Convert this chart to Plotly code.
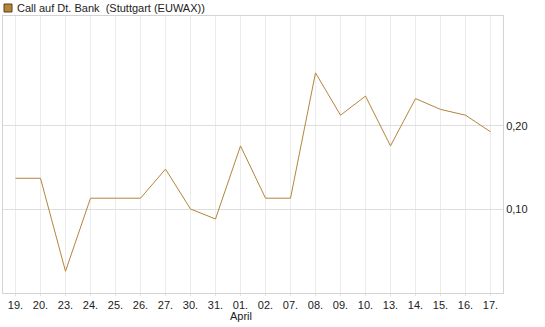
import plotly.graph_objects as go

categories = ["19.", "20.", "23.", "24.", "25.", "26.", "27.", "30.", "31.", "01.",
              "02.", "07.", "08.", "09.", "10.", "13.", "14.", "15.", "16.", "17."]
values = [0.137, 0.137, 0.025, 0.113, 0.113, 0.113, 0.148, 0.100, 0.088, 0.176,
          0.113, 0.113, 0.264, 0.213, 0.236, 0.176, 0.233, 0.220, 0.213, 0.193]
y_ticks = [0.10, 0.20]
y_tick_labels = ["0,10", "0,20"]
series_name = "Call auf Dt. Bank  (Stuttgart (EUWAX))"
month_label = "April"

x_idx = list(range(len(categories)))
line_color = "#b5843a"

fig = go.Figure()
fig.add_trace(go.Scatter(x=x_idx, y=values, mode="lines",
                         line=dict(color=line_color, width=1), showlegend=False,
                         hoverinfo="skip"))

fig.update_layout(
    width=545, height=327,
    margin=dict(l=3, r=42, t=16, b=34),
    paper_bgcolor="white", plot_bgcolor="white",
    font=dict(family="Liberation Sans, Arial, sans-serif", size=11, color="#222"),
    xaxis=dict(range=[-0.5, len(categories) - 0.5], tickmode="array",
               tickvals=x_idx, ticktext=categories, showgrid=True,
               gridcolor="#ececec", gridwidth=1, showline=True, mirror=True,
               linecolor="#d4d4d4", linewidth=1, zeroline=False,
               ticks="outside", ticklen=2, tickcolor="#e4e4e4",
               tickfont=dict(size=11, color="#222")),
    yaxis=dict(range=[-0.0012, 0.3325], side="right", tickmode="array",
               tickvals=y_ticks, ticktext=y_tick_labels, showgrid=True,
               gridcolor="#dedede", gridwidth=1, showline=True, mirror=True,
               linecolor="#d4d4d4", linewidth=1, zeroline=False,
               ticks="", tickfont=dict(size=11, color="#222")),
)

fig.add_annotation(x=9, y=0, xref="x", yref="paper", yshift=-15,
                   text=month_label, showarrow=False,
                   font=dict(size=11, color="#222"), yanchor="top")

fig.add_shape(type="rect", xref="paper", yref="paper",
              xsizemode="pixel", ysizemode="pixel",
              xanchor=0, yanchor=1,
              x0=1, x1=9, y0=4, y1=12,
              line=dict(color="#5a4020", width=1), fillcolor=line_color)
fig.add_annotation(x=0, y=1, xref="paper", yref="paper", xshift=12, yshift=8,
                   text=series_name, showarrow=False, xanchor="left", yanchor="middle",
                   font=dict(size=11, color="#222"))

fig.write_html("out.html")
